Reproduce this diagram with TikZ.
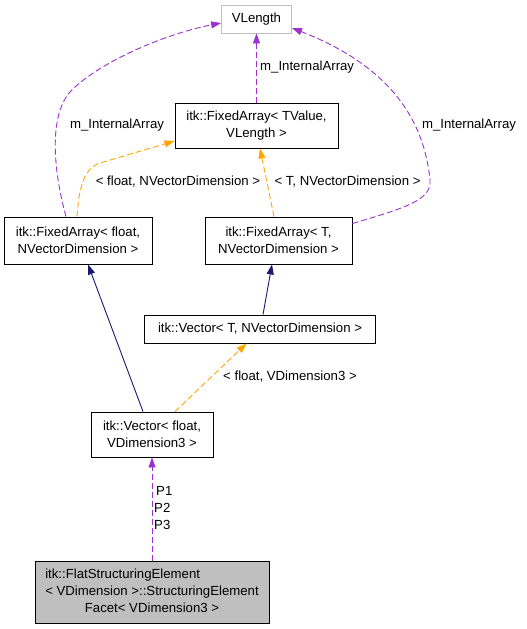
\documentclass[tikz,border=0pt]{standalone}
\usepackage{fontspec}
\setmainfont{Liberation Sans}
\usetikzlibrary{arrows.meta}
\definecolor{memberpurple}{HTML}{9A32CD}
\definecolor{templorange}{HTML}{FFA500}
\definecolor{inhnavy}{HTML}{191970}
\definecolor{boxgray}{HTML}{BFBFBF}
\begin{document}
\begin{tikzpicture}[x=1pt,y=-1pt,font=\fontsize{13.2}{17}\selectfont,
    cls/.style={draw=black,fill=white,line width=0.9pt,align=center,inner sep=2pt},
    member/.style={-{Triangle[length=10pt,width=7pt]},memberpurple,line width=0.9pt,dash pattern=on 6pt off 3pt},
    templ/.style={-{Triangle[length=10pt,width=7pt]},templorange,line width=0.9pt,dash pattern=on 6pt off 3pt},
    inherit/.style={-{Triangle[length=10pt,width=7pt]},inhnavy,line width=0.9pt},
    lbl/.style={inner sep=0pt}]
  \useasboundingbox (0,0) rectangle (527,629);

  \node(vlength) at (256.5,19) [cls,draw=boxgray,minimum width=70pt,minimum height=28pt] {VLength};
  \node(fa_tvalue) at (256.5,125.5) [cls,minimum width=163pt,minimum height=45pt] {itk::FixedArray< TValue,\\VLength >};
  \node(fa_float) at (78,240.5) [cls,minimum width=148pt,minimum height=47pt] {itk::FixedArray< float,\\NVectorDimension >};
  \node(fa_t) at (278.5,240.5) [cls,minimum width=147pt,minimum height=47pt] {itk::FixedArray< T,\\NVectorDimension >};
  \node(vec_t) at (260,329) [cls,minimum width=231pt,minimum height=28pt] {itk::Vector< T, NVectorDimension >};
  \node(vec_float) at (152,434.5) [cls,minimum width=122pt,minimum height=45pt] {itk::Vector< float,\\VDimension3 >};
  \node(facet) at (152,592) [cls,fill=boxgray,minimum width=234pt,minimum height=62pt]
    {\begin{tabular}{@{}l@{}}itk::FlatStructuringElement\\< VDimension >::StructuringElement\\
     \multicolumn{1}{@{}c@{}}{Facet< VDimension3 >}\end{tabular}};

  % member links
  \draw (fa_tvalue.north) edge[member] (vlength.south);
  \draw[member] ([xshift=-12pt]fa_float.north) .. controls (52,165) and (50,115) .. (70,92)
    .. controls (95,65) and (160,35) .. ([yshift=-4pt]vlength.west);
  \draw[member] ([yshift=17pt]fa_t.east) .. controls (405,208) and (432,200) .. (430,180)
    .. controls (425,130) and (400,70) .. ([yshift=-9pt]vlength.east);
  \draw (facet.north) edge[member] (vec_float.south);

  % template instances
  \draw[templ] ([xshift=-1pt]fa_float.north) .. controls (79,185) and (85,168) .. (100,163) -- ([yshift=-15.5pt]fa_tvalue.west);
  \draw ([xshift=-4.5pt]fa_t.north) edge[templ] ([xshift=3.5pt]fa_tvalue.south);
  \draw ([xshift=23pt]vec_float.north) edge[templ] ([xshift=-13.5pt]vec_t.south);

  % inheritance
  \draw ([xshift=-9pt]vec_float.north) edge[inherit] ([xshift=10pt]fa_float.south);
  \draw ([xshift=3pt]vec_t.north) edge[inherit] ([xshift=-6.5pt]fa_t.south);

  \node(lbl_top) at (260,67) [lbl,anchor=west] {m\_InternalArray};
  \node(lbl_left) at (117,125) [lbl] {m\_InternalArray};
  \node(lbl_right) at (469,125) [lbl] {m\_InternalArray};
  \node(lbl_float) at (178,182) [lbl] {< float, NVectorDimension >};
  \node(lbl_t) at (347.5,182) [lbl] {< T, NVectorDimension >};
  \node(lbl_vdim) at (290,377) [lbl] {< float, VDimension3 >};
  \node(lbl_p) at (154,508) [lbl,anchor=west,align=left] {\hspace*{2pt}P1\\P2\\P3};
\end{tikzpicture}
\end{document}
